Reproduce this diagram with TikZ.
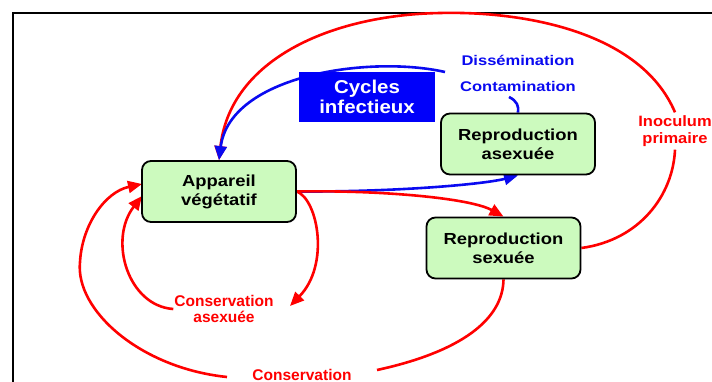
\documentclass[tikz,border=0pt]{standalone}
\usepackage{fontspec}
\setmainfont{Liberation Sans}
\newfontfamily\stretchA{Liberation Sans}[FakeStretch=1.15]
\newfontfamily\stretchB{Liberation Sans}[FakeStretch=1.1]
\newfontfamily\stretchC{Liberation Sans}[FakeStretch=1.18]
\usetikzlibrary{arrows.meta,backgrounds}
\definecolor{boxgreen}{RGB}{204,250,190}
\definecolor{myblue}{RGB}{10,10,240}
\definecolor{boxblue}{RGB}{0,0,250}
\definecolor{myred}{RGB}{255,0,0}
\begin{document}
\begin{tikzpicture}[x=1pt,y=-1pt,
 box/.style={draw=black, line width=1.8pt, rounded corners=9pt, fill=boxgreen, align=center,
   minimum width=154pt, minimum height=61pt, inner sep=0pt,
   font=\stretchA\bfseries\fontsize{16}{19}\selectfont},
 redlab/.style={text=myred, align=center, inner sep=1pt, font=\bfseries\fontsize{15.5}{16.5}\selectfont},
 bluelab/.style={text=myblue, inner sep=1pt, font=\stretchC\bfseries\fontsize{14}{16}\selectfont},
 redline/.style={draw=myred, line width=2.6pt},
 blueline/.style={draw=myblue, line width=2.6pt},
 tip/.style={-{Triangle[length=14pt,width=12pt]}}
]
\useasboundingbox (0,0) rectangle (712,382);

% nodes
\node[box] (app) at (219,191.5) {Appareil\\v\'eg\'etatif};
\node[box] (asx) at (518,144) {Reproduction\\asexu\'ee};
\node[box] (sex) at (503.5,248) {Reproduction\\sexu\'ee};
\node[fill=boxblue, text=white, align=center, minimum width=136pt, minimum height=50pt, inner sep=0pt,
  font=\stretchB\bfseries\fontsize{18.6}{20}\selectfont] (cyc) at (367,97) {Cycles\\infectieux};
\node[bluelab] (diss) at (518,60) {Diss\'emination};
\node[bluelab] (cont) at (518,86) {Contamination};
\node[redlab, inner sep=3pt, font=\stretchB\bfseries\fontsize{15}{17}\selectfont] (inoc) at (675,131) {Inoculum\\primaire};
\node[redlab] (casx) at (224,309) {Conservation\\asexu\'ee};
\node[redlab] (cons) at (302,374.5) {Conservation};

% free ends
\coordinate (bst) at (445,72);
\coordinate (cst) at (509,97);
\coordinate (cat) at (290,306);
\coordinate (al1) at (142,184);
\coordinate (al2) at (142,196);
\coordinate (cr) at (377,370);
\coordinate (cl) at (227,377);

\begin{scope}[on background layer]
\draw[line width=1.3pt] (13,382) -- (13,13) -- (712,13);
% inoculum arc
\draw[redline] (sex.east) .. controls (640,240) and (673,195) .. (inoc.south);
\draw[redline, tip] (inoc.north) .. controls (640,30) and (520,11) .. (440,13)
   .. controls (330,15) and (230,60) .. (app.north);
% cycles infectieux
\draw[blueline, tip] (bst) .. controls (370,55) and (230,75) .. (app.north);
\draw[blueline] (cst) .. controls (517,101) and (519,106) .. (asx.north);
\draw[blueline, tip] (app.east) .. controls (400,192) and (485,184) .. (asx.south);
% reproduction sexuee
\draw[redline, tip] (app.east) .. controls (380,190) and (470,198) .. (sex.north);
% conservation asexuee
\draw[redline, tip] (app.east) .. controls (318,200) and (330,265) .. (cat);
\draw[redline, tip] (casx.west) .. controls (128,306) and (108,240) .. (al2);
% conservation
\draw[redline] (sex.south) .. controls (503,320) and (460,352) .. (cr);
\draw[redline, tip] (cl) .. controls (140,368) and (75,310) .. (80,262)
   .. controls (82,225) and (105,192) .. (al1);
\end{scope}
\end{tikzpicture}
\end{document}
